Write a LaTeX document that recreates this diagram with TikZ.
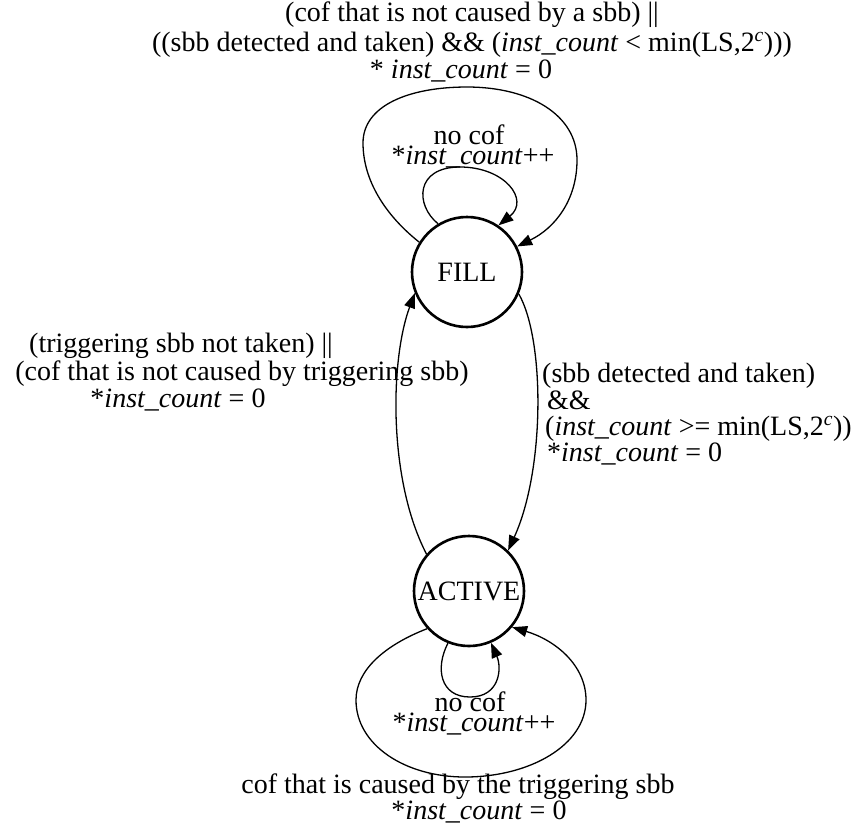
\documentclass[tikz,border=0pt]{standalone}
\usepackage{fontspec}
\setmainfont{Liberation Serif}
\usetikzlibrary{arrows.meta}
\newcommand{\instc}{\textit{inst\_count}}
\begin{document}
\begin{tikzpicture}[x=1pt,y=-1pt,
  font=\fontsize{28}{28}\selectfont,
  state/.style={draw,circle,line width=2.6pt,minimum size=110pt,inner sep=0pt},
  trans/.style={line width=1.3pt,-{Triangle[length=15pt,width=11pt]}},
  lbl/.style={inner sep=0pt,anchor=base},
  lbll/.style={inner sep=0pt,anchor=base west}]
\useasboundingbox (0,0) rectangle (864,831);

% states
\node[state] (F) at (467,272) {FILL};
\node[state] (A) at (469,591) {ACTIVE};

% FILL: outer self loop
\draw[trans] (F.148) .. controls (385,215) and (363,180) .. (363,143)
  .. controls (363,105) and (410,87) .. (467,87)
  .. controls (530,87) and (577,115) .. (577,160)
  .. controls (577,200) and (555,228) .. (F.27);
\node[lbl] (top1) at (472,21) {(cof that is not caused by a sbb) ||};
\node[lbl] (top2) at (472,51) {((sbb detected and taken) \&\& (\instc{} < min(LS,2\textsuperscript{\textit{c}})))};
\node[lbl] (top3) at (461,78) {* \instc{} = 0};

% FILL: inner self loop
\draw[trans] (F.121) .. controls (415,205) and (415,167) .. (460,167)
  .. controls (505,167) and (530,200) .. (F.56);
\node[lbl] (fl1) at (469,144) {no cof};
\node[lbl] (fl2) at (473,164) {*\instc++};

% FILL -> ACTIVE
\draw[trans] (F.337) .. controls (545,340) and (545,470) .. (A.46);
\node[lbll] (r1) at (542,382) {(sbb detected and taken)};
\node[lbll] (r2) at (547,409) {\&\&};
\node[lbll] (r3) at (545,435) {(\instc{} >= min(LS,2\textsuperscript{\textit{c}}))};
\node[lbll] (r4) at (547,461) {*\instc{} = 0};

% ACTIVE -> FILL
\draw[trans] (A.139) .. controls (388,480) and (390,360) .. (F.202);
\node[lbl] (l1) at (181,352) {(triggering sbb not taken) ||};
\node[lbl] (l2) at (242,380) {(cof that is not caused by triggering sbb)};
\node[lbl] (l3) at (178,407) {*\instc{} = 0};

% ACTIVE: outer self loop
\draw[trans] (A.222) .. controls (385,645) and (356,670) .. (356,700)
  .. controls (356,745) and (405,777) .. (465,777)
  .. controls (530,777) and (586,745) .. (586,700)
  .. controls (586,665) and (555,640) .. (A.320);
\node[lbl] (b1) at (458,793) {cof that is caused by the triggering sbb};
\node[lbl] (b2) at (479,819) {*\instc{} = 0};

% ACTIVE: inner self loop
\draw[trans] (A.248) .. controls (435,668) and (440,697) .. (470,697)
  .. controls (500,697) and (502,668) .. (A.293);
\node[lbl] (al1) at (470,711) {no cof};
\node[lbl] (al2) at (474,731) {*\instc++};
\end{tikzpicture}
\end{document}
